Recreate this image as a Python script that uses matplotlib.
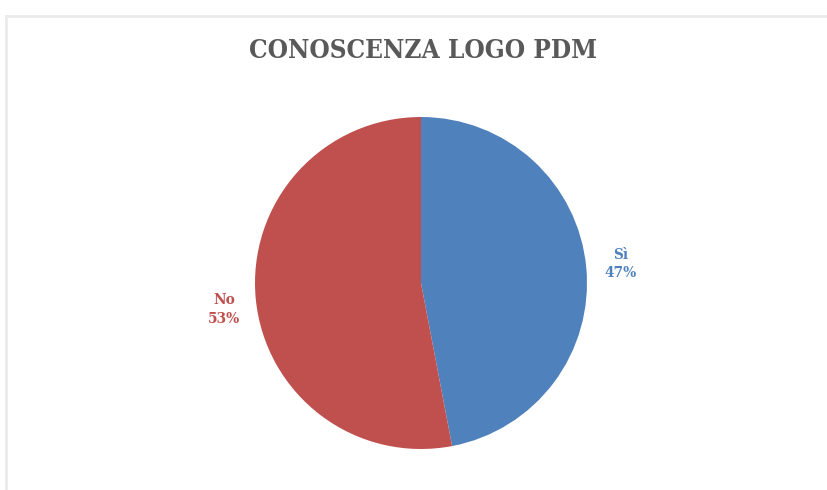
import numpy as np
import matplotlib
matplotlib.use("Agg")
import matplotlib.pyplot as plt
from matplotlib.lines import Line2D

# Data
categories = ["Sì", "No"]
values = [47, 53]
colors = ["#4F81BD", "#C0504D"]
title = "CONOSCENZA LOGO PDM"

W, H = 828, 490
fig = plt.figure(figsize=(W / 100, H / 100), dpi=100)
fig.patch.set_facecolor("white")

# Chart-area frame (top and left edges)
frame_col = "#ebebeb"
fig.add_artist(Line2D([6 / W, 1.0], [1 - 16 / H, 1 - 16 / H], color=frame_col, lw=2.0,
                      transform=fig.transFigure))
fig.add_artist(Line2D([6 / W, 6 / W], [0.0, 1 - 16 / H], color=frame_col, lw=2.0,
                      transform=fig.transFigure))

# Pie axes: centre (421, 283) px, radius 166 px
cx, cy, r = 421, 283, 166
ax = fig.add_axes([(cx - r) / W, (H - cy - r) / H, 2 * r / W, 2 * r / H])
wedges, _ = ax.pie(values, colors=colors, startangle=90, counterclock=False,
                   radius=1.0, wedgeprops=dict(linewidth=0))
ax.set_xlim(-1, 1)
ax.set_ylim(-1, 1)
ax.set_aspect("equal")
ax.axis("off")

# Outside labels at each wedge's mid-angle
label_font = dict(family="DejaVu Serif", fontstretch="condensed", fontweight="bold",
                  fontsize=11, linespacing=1.4)
dist = 1.21
for w, name, val, col in zip(wedges, categories, values, colors):
    mid = np.deg2rad((w.theta1 + w.theta2) / 2)
    x, y = dist * np.cos(mid), dist * np.sin(mid)
    if y < 0:
        x += 0.02
        y -= 0.045
    ax.text(x, y, f"{name}\n{val}%", ha="center", va="center", color=col,
            clip_on=False, **label_font)

fig.text(423 / W, 1 - 51 / H, title, ha="center", va="center", color="#595959",
         family="DejaVu Serif", fontstretch="condensed", fontweight="bold", fontsize=18.7)

fig.savefig("out.png", dpi=100)
